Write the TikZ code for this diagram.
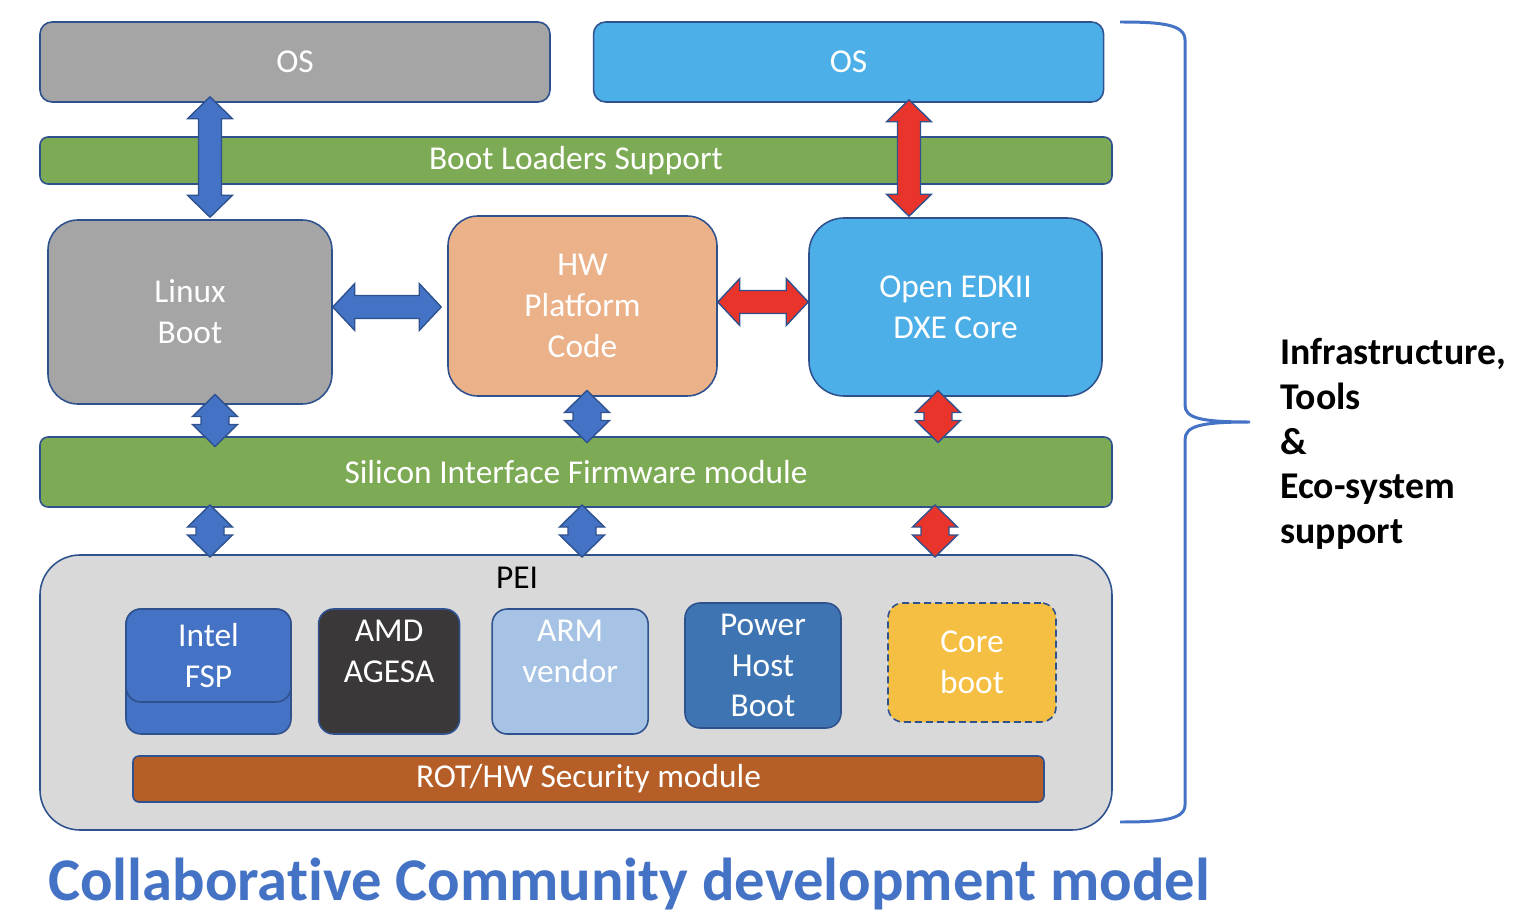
\documentclass[tikz,border=0pt]{standalone}
\usepackage{fontspec}
\setmainfont{Carlito}
\usetikzlibrary{positioning, calc}

\definecolor{osgrey}{HTML}{A5A5A5}
\definecolor{osblue}{HTML}{4DAFE8}
\definecolor{bargreen}{HTML}{7DAA55}
\definecolor{hworange}{HTML}{EBB28A}
\definecolor{peigrey}{HTML}{D9D9D9}
\definecolor{intelblue}{HTML}{4472C4}
\definecolor{amddark}{HTML}{3A3838}
\definecolor{armblue}{HTML}{A6C3E5}
\definecolor{powerblue}{HTML}{3F74B2}
\definecolor{coreyellow}{HTML}{F5BF43}
\definecolor{rotbrown}{HTML}{B65E28}
\definecolor{edgeblue}{HTML}{2F528F}
\definecolor{arrowred}{HTML}{E8342A}

\newcommand{\fwfont}{\fontsize{19}{23.2}\selectfont}

% fat double arrows, vertical and horizontal
\newcommand{\varrow}[4][0.23]{%
  \filldraw[#2] (#3) -- ($(#3)+(0.45,-0.44)$) -- ($(#3)+(#1,-0.44)$) -- ($(#4)+(#1,0.44)$)
    -- ($(#4)+(0.45,0.44)$) -- (#4) -- ($(#4)+(-0.45,0.44)$) -- ($(#4)+(-#1,0.44)$)
    -- ($(#3)+(-#1,-0.44)$) -- ($(#3)+(-0.45,-0.44)$) -- cycle;}
\newcommand{\harrow}[3]{%
  \filldraw[#1] (#2) -- ($(#2)+(0.44,0.47)$) -- ($(#2)+(0.44,0.23)$) -- ($(#3)+(-0.44,0.23)$)
    -- ($(#3)+(-0.44,0.47)$) -- (#3) -- ($(#3)+(-0.44,-0.47)$) -- ($(#3)+(-0.44,-0.23)$)
    -- ($(#2)+(0.44,-0.23)$) -- ($(#2)+(0.44,-0.47)$) -- cycle;}
% short one, centred in the gap between two nodes
\newcommand{\smallv}[4]{%
  \coordinate (mid) at ($(#2 |- #3.south)!0.5!(#2 |- #4.north)$);
  \coordinate (vt) at ($(mid)+(0,0.52)$);
  \coordinate (vb) at ($(mid)-(0,0.52)$);
  \varrow[0.28]{#1}{vt}{vb}}

\tikzset{
  fwbox/.style={rectangle, draw=edgeblue, line width=0.9pt, rounded corners=0.3cm, text=white,
    align=center, font=\fwfont, inner sep=0pt},
  bluearrow/.style={fill=intelblue, draw=edgeblue, line width=0.8pt},
  redarrow/.style={fill=arrowred, draw=edgeblue, line width=0.8pt},
  brace/.style={draw=intelblue, line width=1.7pt}
}

\begin{document}
\begin{tikzpicture}
\useasboundingbox (0,0) rectangle (30.44,-18.36);

\node[fwbox, fill=osgrey, minimum width=10.2cm, minimum height=1.6cm, rounded corners=0.24cm] (osL) at (5.9,-1.24) {OS};
\node[fwbox, fill=osblue, minimum width=10.2cm, minimum height=1.6cm, rounded corners=0.24cm, right=0.84cm of osL] (osR) {OS};
\node[fwbox, fill=bargreen, minimum width=21.44cm, minimum height=0.94cm, rounded corners=0.16cm] (boot) at (11.52,-3.21) {Boot Loaders Support};

\node[fwbox, fill=osgrey, minimum width=5.68cm, minimum height=3.68cm, rounded corners=0.6cm] (linux) at (3.8,-6.24) {Linux\\Boot};
\node[fwbox, fill=hworange, minimum width=5.38cm, minimum height=3.6cm, rounded corners=0.6cm] (hw) at (11.65,-6.12) {HW\\Platform\\Code};
\node[fwbox, fill=osblue, minimum width=5.86cm, minimum height=3.56cm, rounded corners=0.7cm] (dxe) at (19.11,-6.14) {Open EDKII\\DXE Core};

\node[fwbox, fill=bargreen, minimum width=21.44cm, minimum height=1.4cm, rounded corners=0.16cm] (sifm) at (11.52,-9.44) {Silicon Interface Firmware module};

% PEI block
\node[fwbox, fill=peigrey, minimum width=21.44cm, minimum height=5.5cm, rounded corners=0.8cm] (pei) at (11.52,-13.85) {};
\node[font=\fwfont, anchor=base] (peilbl) at (10.34,-11.76) {PEI};

\node[fwbox, fill=intelblue, minimum width=3.3cm, minimum height=2.5cm] (intelB) at (4.17,-13.43) {};
\node[fwbox, fill=intelblue, minimum width=3.3cm, minimum height=1.86cm] (intel) at (4.17,-13.11) {Intel\\FSP};
\node[fwbox, fill=amddark, minimum width=2.82cm, minimum height=2.5cm, right=0.52cm of intelB] (amd) {AMD\\AGESA\\~};
\node[fwbox, fill=armblue, minimum width=3.12cm, minimum height=2.5cm, right=0.62cm of amd] (arm) {ARM\\vendor\\~};
\node[fwbox, fill=powerblue, minimum width=3.12cm, minimum height=2.5cm] (power) at (15.26,-13.31) {Power\\Host\\Boot};
\node[fwbox, fill=coreyellow, dash pattern=on 0.14cm off 0.08cm, minimum width=3.36cm, minimum height=2.38cm] (core) at (19.44,-13.25) {Core\\boot};
\node[fwbox, fill=rotbrown, minimum width=18.22cm, minimum height=0.92cm, rounded corners=0.12cm] (rot) at (11.77,-15.58) {ROT/HW Security module};

% arrows
\coordinate (xa) at (4.2,0);
\coordinate (xb) at (18.18,0);
\coordinate (yh1) at (0,-6.14);
\coordinate (yh2) at (0,-6.04);
\coordinate (a1) at ($(xa |- osL.south)+(0,0.12)$);
\coordinate (a2) at ($(xa |- linux.north)+(0,0.04)$);
\coordinate (b1) at ($(xb |- osR.south)+(0,0.06)$);
\coordinate (b2) at ($(xb |- dxe.north)+(0,0.02)$);
\varrow{bluearrow}{a1}{a2}
\varrow{redarrow}{b1}{b2}

\coordinate (h1) at (linux.east |- yh1);
\coordinate (h2) at ($(hw.west |- yh1)-(0.12,0)$);
\coordinate (r1) at (hw.east |- yh2);
\coordinate (r2) at (dxe.west |- yh2);
\harrow{bluearrow}{h1}{h2}
\harrow{redarrow}{r1}{r2}

\coordinate (s1) at (4.3,0);
\coordinate (s2) at (11.74,0);
\coordinate (s3) at (18.76,0);
\coordinate (p1) at (4.2,0);
\coordinate (p2) at (11.64,0);
\coordinate (p3) at (18.7,0);
\smallv{bluearrow}{s1}{linux}{sifm}
\smallv{bluearrow}{s2}{hw}{sifm}
\smallv{redarrow}{s3}{dxe}{sifm}
\smallv{bluearrow}{p1}{sifm}{pei}
\smallv{bluearrow}{p2}{sifm}{pei}
\smallv{redarrow}{p3}{sifm}{pei}

% brace and side text
\draw[brace] (22.4,-0.44) .. controls (23.2,-0.44) and (23.7,-0.48) .. (23.7,-0.8) -- (23.7,-8.1)
  .. controls (23.7,-8.36) and (24.0,-8.44) .. (25.0,-8.44)
  .. controls (24.0,-8.44) and (23.7,-8.52) .. (23.7,-8.8) -- (23.7,-16.1)
  .. controls (23.7,-16.4) and (23.2,-16.44) .. (22.4,-16.44);
\node[font=\bfseries\fontsize{21.5}{25.5}\selectfont, align=left, anchor=west, inner sep=0pt] (infra) at (25.6,-8.88) {Infrastructure,\\Tools\\\&\\Eco-system\\support};

\node[font=\bfseries\fontsize{34.5}{40}\selectfont\addfontfeature{Ligatures=NoCommon}, text=intelblue, anchor=base] (title) at (12.58,-18.0) {Collaborative Community development model};
\end{tikzpicture}
\end{document}
